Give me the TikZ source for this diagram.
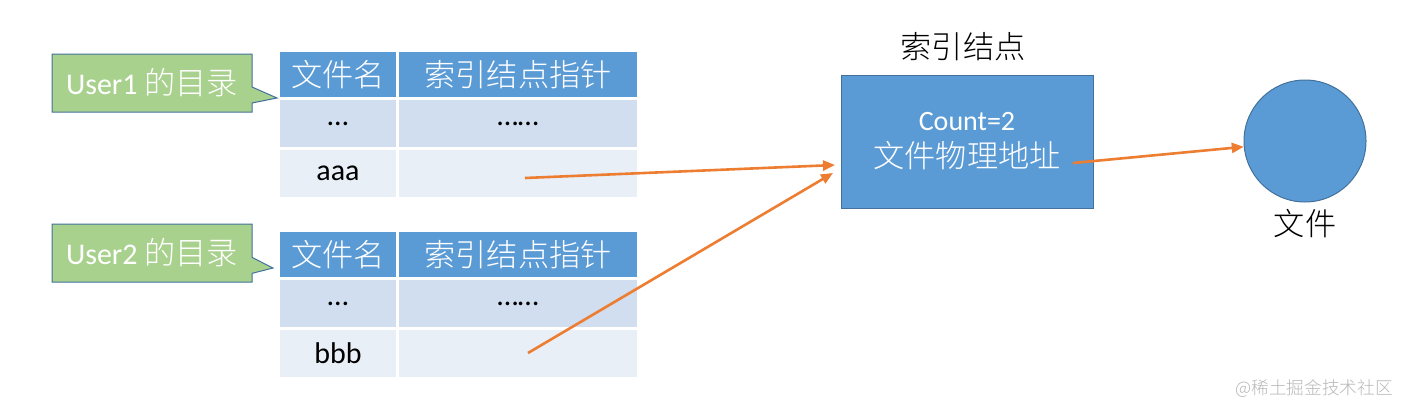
\documentclass[tikz,border=0pt]{standalone}
\usepackage{fontspec}
\setmainfont{Carlito}
\newfontfamily\cjk{Noto Sans CJK SC}[UprightFont=* Light, Scale=1.04]
\usetikzlibrary{shapes.callouts,arrows.meta}
\definecolor{hdr}{HTML}{5B9BD5}
\definecolor{rowa}{HTML}{D0DEEF}
\definecolor{rowb}{HTML}{E9EFF7}
\definecolor{edgec}{HTML}{41719C}
\definecolor{grn}{HTML}{A9D18E}
\definecolor{org}{HTML}{ED7D31}
\definecolor{wm}{HTML}{B8B8B8}
\begin{document}
\begin{tikzpicture}[x=1pt,y=-1pt,
  txt/.style={font=\fontsize{30}{34}\selectfont},
  cell/.style={txt, inner sep=0pt, outer sep=0pt},
  hcell/.style={cell, fill=hdr, text=white, minimum height=45pt},
  acell/.style={cell, fill=rowa, minimum height=47pt},
  bcell/.style={cell, fill=rowb, minimum height=47pt},
  cola/.style={minimum width=116pt},
  colb/.style={minimum width=238pt},
  callbox/.style={rectangle callout, txt, fill=grn, draw=edgec, line width=1pt,
    text=white, minimum width=200pt, minimum height=58pt, inner sep=0pt,
    callout pointer width=16pt},
  arr/.style={draw=org, line width=2.6pt, -{Triangle[length=12pt,width=10pt]}},
  lbl/.style={txt}
]
\useasboundingbox (0,0) rectangle (1401,407);

% Table 1
\node[hcell,cola] (h1a) at (338,74.5) {\cjk 文件名};
\node[hcell,colb] (h1b) at (518,74.5) {\cjk 索引结点指针};
\node[acell,cola] (r1a) at (338,123.5) {…};
\node[acell,colb] (r1b) at (518,123.5) {……};
\node[bcell,cola] (s1a) at (338,173.5) {aaa};
\node[bcell,colb] (s1b) at (518,173.5) {};

% Table 2
\node[hcell,cola] (h2a) at (338,254.5) {\cjk 文件名};
\node[hcell,colb] (h2b) at (518,254.5) {\cjk 索引结点指针};
\node[acell,cola] (r2a) at (338,303.5) {…};
\node[acell,colb] (r2b) at (518,303.5) {……};
\node[bcell,cola] (s2a) at (338,353.5) {bbb};
\node[bcell,colb] (s2b) at (518,353.5) {};

% Callouts
\node[callbox, callout absolute pointer={(277,98)}] (c1) at (152,83) {User1 {\cjk 的目录}};
\node[callbox, callout absolute pointer={(273,268)}] (c2) at (152,253) {User2 {\cjk 的目录}};

% Index node
\node[lbl] (idxlbl) at (963,47) {\cjk 索引结点};
\node[draw=edgec, line width=1pt, fill=hdr, text=white, txt, align=center,
  minimum width=252pt, minimum height=133pt, inner sep=0pt] (idx) at (967,141.5)
  {\fontsize{28}{30}\selectfont Count=2\\[3pt]{\cjk 文件物理地址}};

% File
\node[circle, draw=edgec, line width=1pt, fill=hdr, minimum size=122pt, inner sep=0pt] (file) at (1305,141) {};
\node[lbl] (filelbl) at (1305,224) {\cjk 文件};

% Arrows
\coordinate (p1) at (525,178);
\coordinate (q1) at (835,165);
\coordinate (p2) at (528,353);
\coordinate (q2) at (833,173);
\coordinate (p3) at (1073,163);
\draw[arr] (p1) -- (q1);
\draw[arr] (p2) -- (q2);
\draw[arr] (p3) -- (file);

% Watermark
\node[text=wm, font=\fontsize{17}{20}\selectfont\cjk] (wmk) at (1314,388) {@稀土掘金技术社区};
\end{tikzpicture}
\end{document}
